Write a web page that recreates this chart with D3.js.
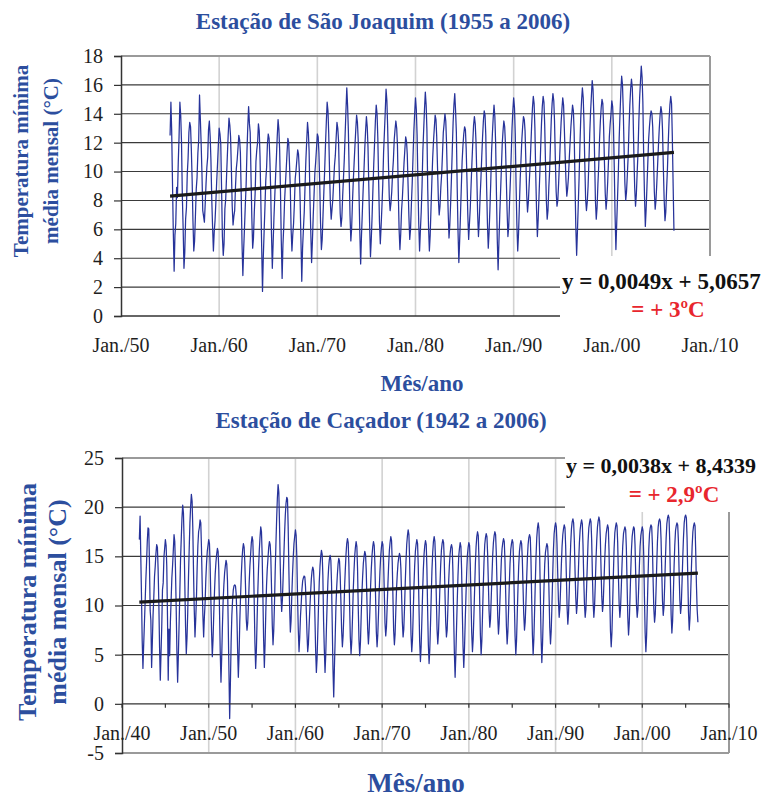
<!DOCTYPE html>
<html>
<head>
<meta charset="utf-8">
<script src="https://cdn.jsdelivr.net/npm/d3@7"></script>
<style>
  html, body { margin: 0; padding: 0; background: #fff; }
  svg { display: block; }
</style>
</head>
<body>
<svg id="chart" width="764" height="798"></svg>
<script>
// Monthly mean of daily minimum temperature (°C), São Joaquim, Jan 1955 – May 2006
const saoJoaquimStart = [1955, 1];
const saoJoaquimMin = [
  12.5,14.8,12.9,9.2,5.8,3.1,5.6,6.4,8.9,8.2,10.6,12.4,
  14.8,13.9,12.1,8.3,6.1,3.3,4.4,6.7,7.5,9.8,10.9,12.7,
  13.4,13.1,11.6,9.4,6.6,4.5,5.2,6.9,8.8,9.6,11.3,12.2,
  15.3,13.6,12.0,9.9,7.3,6.9,6.5,7.8,9.2,10.3,11.0,12.9,
  13.5,12.4,10.8,8.1,6.2,4.5,5.8,6.6,7.9,9.3,10.5,11.8,
  13.0,12.6,11.9,8.7,5.5,4.2,5.0,7.4,8.1,9.6,11.1,12.5,
  13.7,13.2,12.4,10.1,7.6,6.3,6.9,7.3,9.0,10.2,10.8,11.6,
  12.5,12.2,11.3,8.4,5.0,2.8,4.6,6.1,7.7,9.1,11.4,13.1,
  14.5,13.3,12.7,9.6,6.8,4.7,5.4,7.2,8.5,10.7,11.5,12.0,
  13.3,12.8,11.0,7.9,4.8,1.7,4.1,5.9,7.6,9.4,10.3,11.9,
  12.6,12.3,10.9,8.8,5.7,3.3,5.0,6.8,8.3,9.7,11.0,12.4,
  13.6,12.9,11.5,8.6,5.2,2.6,4.9,6.2,8.0,9.1,10.2,11.3,
  12.3,12.0,10.6,8.9,6.0,4.5,5.6,6.4,7.8,9.5,10.1,10.8,
  11.5,11.2,10.1,8.0,5.3,2.4,4.7,6.0,7.2,9.0,10.8,12.1,
  13.4,12.7,11.4,8.2,5.9,3.7,5.1,6.9,8.4,9.9,10.7,11.6,
  12.6,12.4,11.3,9.1,6.4,4.6,5.3,7.0,8.6,10.1,11.9,13.4,
  14.8,14.2,12.6,10.0,7.8,6.7,7.4,8.1,9.3,10.4,11.1,12.3,
  13.4,13.0,12.1,9.4,7.1,6.2,6.8,8.3,9.6,10.9,12.6,14.2,
  15.8,14.5,12.8,9.8,7.0,5.2,6.1,7.9,9.4,10.6,11.8,12.9,
  13.9,13.4,12.2,8.5,5.8,3.6,5.5,7.1,8.7,10.0,11.6,12.8,
  13.8,13.1,11.7,8.9,6.3,4.1,5.3,6.9,8.8,10.5,12.0,13.5,
  14.6,14.0,12.3,9.2,6.5,5.0,6.2,7.6,9.1,11.3,12.7,14.1,
  15.7,14.9,13.1,10.4,8.2,7.3,7.8,8.6,9.9,10.8,12.2,12.9,
  13.5,13.0,11.8,8.6,6.0,4.6,5.7,7.3,8.2,9.4,10.6,11.5,
  12.4,12.1,11.2,9.0,6.9,5.3,6.0,7.7,9.2,11.0,12.8,14.0,
  15.1,14.3,12.5,9.3,6.4,4.5,5.9,7.2,9.0,11.4,12.9,14.3,
  15.5,14.6,12.9,8.8,6.2,4.5,5.6,7.5,9.3,10.9,12.1,13.0,
  13.9,13.6,12.4,10.2,8.1,7.0,7.6,8.9,9.8,11.2,12.7,13.3,
  14.0,13.5,12.0,9.5,7.2,5.4,6.3,7.8,9.6,11.5,13.4,14.6,
  15.4,14.2,12.7,8.9,5.9,3.7,5.2,7.0,8.9,10.7,11.8,12.6,
  13.1,12.9,11.6,9.3,7.0,5.3,6.4,7.5,9.1,10.6,12.0,13.2,
  13.8,13.3,12.1,9.7,7.1,5.5,6.6,8.2,9.5,11.0,12.4,13.5,
  14.2,13.9,12.5,8.9,6.4,4.7,5.8,7.4,9.2,11.3,12.6,13.7,
  14.6,13.8,12.0,8.4,5.3,3.2,5.1,7.0,8.6,10.2,11.9,12.8,
  13.5,13.1,11.9,9.6,7.3,5.5,6.2,7.9,9.4,11.1,13.0,14.2,
  15.1,14.4,12.6,9.0,6.3,4.5,5.7,7.6,9.5,10.8,12.2,13.1,
  13.8,13.6,12.8,10.6,8.4,7.2,7.9,9.1,10.3,11.7,13.2,14.4,
  15.2,14.7,13.0,9.8,7.4,5.5,6.7,8.3,9.9,11.6,13.3,14.5,
  15.2,14.8,13.2,10.4,8.0,6.7,7.3,8.9,10.1,11.9,13.6,14.7,
  15.4,14.9,13.5,10.8,8.6,7.6,8.0,9.2,10.6,12.1,13.4,14.3,
  15.1,14.6,13.0,11.1,9.4,8.3,8.8,9.6,10.9,12.0,13.1,13.9,
  14.6,14.2,12.7,9.3,6.2,4.2,5.9,7.7,9.6,11.8,13.7,14.9,
  15.8,15.1,13.4,10.5,8.1,7.3,7.9,9.0,10.7,12.6,14.1,15.2,
  16.3,15.7,14.0,10.9,8.0,6.7,7.5,9.1,10.4,12.2,13.5,14.4,
  15.0,14.7,13.1,10.7,8.5,7.4,8.1,9.3,10.8,12.4,13.3,14.0,
  14.9,14.5,13.2,10.3,7.0,4.6,6.4,8.2,10.0,12.3,14.0,15.5,
  16.6,16.0,14.3,11.6,9.2,8.0,8.6,9.8,11.1,13.0,14.6,15.7,
  16.4,15.8,14.1,11.2,8.9,7.6,8.4,9.9,11.3,13.4,15.1,16.2,
  17.3,16.5,14.8,11.0,8.3,6.2,7.4,9.0,10.6,12.2,13.1,13.8,
  14.2,14.0,13.1,10.9,8.6,7.4,8.0,9.2,10.5,11.8,13.0,13.9,
  14.5,14.1,12.9,10.3,8.1,6.6,7.2,8.8,10.2,12.0,13.6,14.6,
  15.2,14.7,12.4,9.0,5.9
];

// Monthly mean of daily minimum temperature (°C), Caçador, Jan 1942 – Jun 2006
const cacadorStart = [1942, 1];
const cacadorMin = [
  16.7,19.1,15.2,11.0,6.4,3.6,5.9,8.1,10.3,12.6,14.4,16.5,
  17.9,17.8,14.6,9.5,8.5,3.7,6.2,9.0,10.8,12.9,14.0,15.3,
  16.2,15.9,13.7,10.2,5.8,2.4,5.1,7.8,11.6,12.3,14.9,15.8,
  16.7,16.1,14.0,8.7,2.4,7.6,4.9,8.4,10.6,12.8,14.1,15.6,
  17.2,16.5,13.9,9.8,5.4,2.2,4.8,8.0,11.2,14.6,16.8,18.9,
  20.2,19.4,16.6,12.0,7.9,5.1,6.7,9.3,12.8,15.7,18.4,20.1,
  21.3,20.6,17.9,13.4,9.6,6.8,8.5,10.7,13.9,16.1,17.5,17.9,
  18.7,18.4,15.9,12.1,8.9,6.8,8.8,10.2,12.7,14.3,15.5,16.1,
  16.7,16.3,14.2,10.6,7.3,4.8,6.5,9.1,11.4,13.2,14.4,15.2,
  15.8,15.5,13.6,9.4,5.3,2.2,4.7,7.9,10.5,12.1,13.3,14.0,
  14.6,14.2,12.5,8.1,3.4,-1.5,2.0,6.2,9.0,10.5,11.6,12.0,
  12.1,12.0,11.2,9.0,5.6,2.7,4.9,8.3,10.8,12.9,14.6,15.7,
  16.3,15.9,14.4,11.8,8.6,7.5,8.2,10.1,12.3,14.0,15.2,16.4,
  17.0,16.6,14.3,10.4,6.2,3.6,5.4,8.6,11.5,13.8,15.6,16.9,
  18.0,17.5,15.1,10.9,6.6,3.7,6.0,9.3,12.0,13.7,14.8,15.9,
  16.5,16.2,14.9,11.6,8.0,6.0,7.4,10.1,13.5,16.2,18.8,20.9,
  22.3,21.5,18.4,14.2,11.0,9.4,10.6,12.8,15.1,17.3,19.2,20.4,
  21.0,20.8,18.0,13.5,9.9,7.3,8.4,11.0,13.2,14.9,16.3,17.0,
  17.7,17.1,14.8,10.7,7.5,5.3,6.8,8.9,10.2,11.6,12.5,12.8,
  13.0,12.9,11.9,9.6,7.2,5.3,6.1,8.0,9.8,11.3,12.7,13.5,
  13.9,13.6,12.2,8.8,5.5,3.2,4.6,7.3,10.1,12.4,14.0,15.0,
  15.6,15.2,13.1,8.4,5.6,3.2,5.0,7.9,10.4,12.5,13.9,14.7,
  15.1,14.6,12.3,7.9,3.5,0.7,3.8,6.6,9.8,11.7,13.1,14.2,
  14.8,14.5,13.0,10.3,7.4,5.8,6.9,9.0,11.8,13.6,15.2,16.3,
  16.8,16.4,14.2,10.1,6.8,5.1,6.3,8.7,11.5,13.4,15.0,15.9,
  16.5,16.0,13.8,9.7,6.5,4.9,6.2,8.8,11.2,12.9,14.3,15.0,
  15.5,15.2,13.6,10.4,7.6,6.1,7.3,9.4,11.9,13.7,15.1,16.0,
  16.5,16.1,14.3,10.6,7.3,5.8,7.0,9.2,11.6,13.5,15.0,15.9,
  16.5,16.2,14.6,11.4,8.2,6.9,7.8,9.9,12.2,14.1,15.6,16.4,
  17.0,16.6,14.5,10.8,7.4,6.0,7.1,9.6,11.8,13.2,14.3,14.9,
  15.3,15.0,13.7,10.9,8.3,6.8,7.6,9.8,12.4,14.5,16.2,17.1,
  17.7,17.2,14.9,10.6,7.0,5.3,6.5,9.1,11.9,14.0,15.5,16.2,
  16.7,16.3,14.1,9.9,6.3,4.3,5.8,8.5,11.3,13.6,15.2,16.1,
  16.6,16.2,13.8,9.5,6.0,4.1,5.5,8.2,11.1,13.7,15.4,16.5,
  17.0,16.5,14.4,10.8,7.6,6.1,7.2,9.5,12.0,14.1,15.6,16.3,
  16.7,16.4,14.7,11.2,8.3,6.8,7.5,9.7,12.3,14.0,15.2,15.9,
  16.2,15.8,13.4,8.9,5.2,2.7,4.9,7.8,10.6,13.1,15.0,15.8,
  16.4,16.0,13.7,9.4,5.8,3.7,5.6,8.4,11.0,13.3,15.1,15.9,
  16.4,16.1,14.2,10.5,7.2,5.3,6.6,9.0,11.7,14.2,16.0,17.0,
  17.5,17.1,14.8,10.6,7.0,5.0,6.4,9.2,12.1,14.5,16.2,16.9,
  17.3,17.0,15.3,12.4,9.5,7.8,8.6,10.8,13.0,15.1,16.4,17.1,
  17.5,17.2,15.4,12.1,8.9,7.1,8.2,10.4,12.6,14.6,15.8,16.4,
  16.8,16.5,14.6,11.2,7.9,6.1,7.3,9.6,12.2,14.3,15.7,16.3,
  16.7,16.4,14.2,10.3,6.9,5.0,6.4,9.1,11.8,14.0,15.5,16.2,
  16.6,16.3,14.8,11.9,9.1,7.5,8.3,10.3,12.7,14.8,16.2,16.9,
  17.2,16.9,14.7,10.6,7.0,5.0,6.6,9.4,12.4,15.0,16.9,17.9,
  18.4,17.8,15.3,10.7,6.7,4.2,6.1,9.0,11.9,14.2,15.4,15.9,
  16.3,16.0,14.5,11.1,7.8,6.1,7.4,10.0,13.0,15.6,17.3,18.0,
  18.4,18.0,16.3,13.3,10.5,8.8,9.7,11.8,14.1,16.0,17.2,17.8,
  18.2,17.9,16.1,12.9,9.8,8.1,9.2,11.5,14.0,16.3,17.8,18.5,
  18.8,18.4,16.6,13.4,10.8,9.2,10.1,12.1,14.5,16.4,17.7,18.3,
  18.7,18.3,16.2,12.8,10.2,8.8,9.6,11.9,14.3,16.5,17.9,18.4,
  18.8,18.5,16.7,13.1,10.3,8.8,9.9,12.2,14.7,16.6,18.0,18.6,
  19.0,18.6,16.9,13.6,10.9,9.4,10.2,12.4,14.6,16.2,17.3,17.8,
  18.2,17.9,15.6,11.0,7.4,5.8,7.2,10.1,13.2,15.8,17.4,18.0,
  18.4,18.1,16.4,13.0,10.2,8.8,9.8,11.9,14.2,16.1,17.3,17.7,
  18.0,17.7,15.9,12.2,8.8,7.0,8.2,10.7,13.3,15.6,17.0,17.6,
  18.0,17.8,16.2,13.0,10.1,8.8,9.6,11.7,14.0,16.0,17.1,17.6,
  18.0,17.6,15.2,10.9,7.2,5.3,6.9,9.9,13.0,15.7,17.3,17.9,
  18.2,18.0,16.3,12.6,9.7,8.3,9.1,11.4,14.1,16.5,18.0,18.6,
  18.8,18.5,16.8,13.5,10.5,9.0,9.8,12.0,14.6,16.8,18.3,18.9,
  19.2,18.9,16.7,12.5,9.0,7.2,8.4,11.1,13.9,16.1,17.6,18.1,
  18.4,18.2,16.6,13.3,10.6,9.2,10.0,12.3,14.8,16.9,18.4,19.0,
  19.2,18.9,16.9,12.9,9.3,7.5,8.7,11.2,13.8,16.0,17.5,18.1,
  18.4,18.1,15.5,12.0,9.6,8.3
];

// Linear trends, x = months counted from Dec 1899 (Jan 1900 = 1)
const saoJoaquimTrend = [0.0049, 5.0657];
const cacadorTrend = [0.0038, 8.4339];
const saoJoaquimTrendText = ["y = 0,0049x + 5,0657", "= + 3ºC"];
const cacadorTrendText = ["y = 0,0038x + 8,4339", "= + 2,9ºC"];

// Axis ticks
const saoJoaquimYTicks = [0, 2, 4, 6, 8, 10, 12, 14, 16, 18];
const cacadorYTicks = [-5, 0, 5, 10, 15, 20, 25];
const saoJoaquimYears = [1950, 1960, 1970, 1980, 1990, 2000, 2010];
const cacadorYears = [1940, 1950, 1960, 1970, 1980, 1990, 2000, 2010];
const cacadorMinorYears = [1945, 1955, 1965, 1975, 1985, 1995, 2005];
const yearLabel = y => "Jan./" + String(y % 100).padStart(2, "0");

const titles = ["Estação de São Joaquim (1955 a 2006)", "Estação de Caçador (1942 a 2006)"];
const yTitle = ["Temperatura mínima", "média mensal (°C)"];
const xTitle = "Mês/ano";

const SERIF = "'Liberation Serif', 'Times New Roman', serif";
const BLUE_TXT = "#2c4e9e";
const LINE_BLUE = "#27339a";
const RED = "#e8262d";

const svg = d3.select("#chart");
svg.append("rect").attr("width", 764).attr("height", 798).attr("fill", "#fff");

function toSeries(start, values) {
  return values.map((v, i) => {
    const m = start[1] - 1 + i;
    const year = start[0] + Math.floor(m / 12);
    const month = m % 12;
    return { date: new Date(year, month, 1), idx: (year - 1900) * 12 + month + 1, v };
  });
}

function drawPanel(cfg) {
  const g = svg.append("g");
  const x = d3.scaleTime()
    .domain([new Date(cfg.xYears[0], 0, 1), new Date(cfg.xYears[cfg.xYears.length - 1], 0, 1)])
    .range([cfg.left, cfg.right]);
  const y = d3.scaleLinear().domain(cfg.yDomain).range([cfg.bottom, cfg.top]);
  const yTop = cfg.yDomain[1], yBot = cfg.yDomain[0];

  // vertical gridlines
  g.append("g").selectAll("line")
    .data(cfg.xYears.slice(1, -1))
    .join("line")
    .attr("x1", d => x(new Date(d, 0, 1))).attr("x2", d => x(new Date(d, 0, 1)))
    .attr("y1", cfg.top).attr("y2", cfg.bottom)
    .attr("stroke", "#d2d2d2").attr("stroke-width", 1.6);

  // horizontal gridlines
  g.append("g").selectAll("line")
    .data(cfg.yTicks.filter(t => t !== yTop && t !== yBot && t !== 0))
    .join("line")
    .attr("x1", cfg.left).attr("x2", cfg.right)
    .attr("y1", d => y(d)).attr("y2", d => y(d))
    .attr("stroke", "#3a3a3a").attr("stroke-width", 1.1);

  // plot frame (top, right, bottom)
  const frame = g.append("g").attr("stroke", "#9a9a9a").attr("stroke-width", 2).attr("fill", "none");
  frame.append("line").attr("x1", cfg.left).attr("x2", cfg.right).attr("y1", y(yTop)).attr("y2", y(yTop));
  frame.append("line").attr("x1", x(new Date(cfg.xYears[cfg.xYears.length - 1], 0, 1)))
    .attr("x2", x(new Date(cfg.xYears[cfg.xYears.length - 1], 0, 1)))
    .attr("y1", cfg.top).attr("y2", cfg.bottom);
  if (yBot !== 0) {
    frame.append("line").attr("x1", cfg.left).attr("x2", cfg.right).attr("y1", y(yBot)).attr("y2", y(yBot));
  }

  // data series
  const series = toSeries(cfg.start, cfg.values);
  g.append("path")
    .datum(series)
    .attr("fill", "none")
    .attr("stroke", LINE_BLUE)
    .attr("stroke-width", 1.25)
    .attr("stroke-linejoin", "round")
    .attr("d", d3.line().x(d => x(d.date)).y(d => y(d.v)));

  // trend line from the fitted equation
  const ends = [series[0], series[series.length - 1]];
  g.append("path")
    .datum(ends)
    .attr("fill", "none")
    .attr("stroke", "#1a1a1a")
    .attr("stroke-width", 3.2)
    .attr("d", d3.line().x(d => x(d.date)).y(d => y(cfg.trend[0] * d.idx + cfg.trend[1])));

  // x axis line at zero
  g.append("line").attr("x1", cfg.left).attr("x2", cfg.right)
    .attr("y1", y(0)).attr("y2", y(0)).attr("stroke", "#333").attr("stroke-width", 1.4);
  if (cfg.minorYears) {
    g.append("g").selectAll("line")
      .data(cfg.xYears.concat(cfg.minorYears))
      .join("line")
      .attr("x1", d => x(new Date(d, 0, 1))).attr("x2", d => x(new Date(d, 0, 1)))
      .attr("y1", y(0)).attr("y2", y(0) + 4)
      .attr("stroke", "#333").attr("stroke-width", 1.2);
  }

  // y axis
  const yAxis = d3.axisLeft(y).tickValues(cfg.yTicks).tickSize(7).tickPadding(11).tickFormat(d3.format("d"));
  const ya = g.append("g").attr("transform", `translate(${cfg.left},0)`).call(yAxis);
  ya.select(".domain").attr("stroke", "#333").attr("stroke-width", 1.5);
  ya.selectAll(".tick line").attr("stroke", "#333").attr("stroke-width", 1.2);
  ya.selectAll(".tick text")
    .attr("font-family", SERIF).attr("font-size", 20).attr("fill", "#1e1e1e")
    .text(d => d < 0 ? "-" + Math.abs(d) : d);

  // x tick labels
  g.append("g").selectAll("text")
    .data(cfg.xYears)
    .join("text")
    .attr("x", d => x(new Date(d, 0, 1)))
    .attr("y", cfg.xLabelY)
    .attr("text-anchor", "middle")
    .attr("font-family", SERIF).attr("font-size", 20).attr("fill", "#1e1e1e")
    .text(yearLabel);

  // box behind the trend equation
  g.append("rect")
    .attr("x", cfg.eqBox[0]).attr("y", cfg.eqBox[1])
    .attr("width", cfg.eqBox[2]).attr("height", cfg.eqBox[3])
    .attr("fill", "#fff");
  g.append("text")
    .attr("x", cfg.eqPos[0]).attr("y", cfg.eqPos[1])
    .attr("font-family", SERIF).attr("font-weight", "bold").attr("font-size", cfg.eqSize)
    .attr("fill", "#111")
    .text(cfg.eqText[0]);
  g.append("text")
    .attr("x", cfg.deltaPos[0]).attr("y", cfg.deltaPos[1])
    .attr("text-anchor", "middle")
    .attr("font-family", SERIF).attr("font-weight", "bold").attr("font-size", 23)
    .attr("fill", RED)
    .text(cfg.eqText[1]);

  // titles
  g.append("text")
    .attr("x", cfg.titlePos[0]).attr("y", cfg.titlePos[1])
    .attr("text-anchor", "middle")
    .attr("font-family", SERIF).attr("font-weight", "bold").attr("font-size", 23)
    .attr("fill", BLUE_TXT)
    .text(cfg.title);
  g.append("text")
    .attr("x", cfg.xTitlePos[0]).attr("y", cfg.xTitlePos[1])
    .attr("text-anchor", "middle")
    .attr("font-family", SERIF).attr("font-weight", "bold").attr("font-size", cfg.xTitleSize)
    .attr("fill", BLUE_TXT)
    .text(xTitle);
  const yt = g.append("text")
    .attr("transform", `translate(${cfg.yTitlePos[0]},${cfg.yTitlePos[1]}) rotate(-90)`)
    .attr("text-anchor", "middle")
    .attr("font-family", SERIF).attr("font-weight", "bold").attr("font-size", cfg.yTitleSize)
    .attr("fill", BLUE_TXT);
  yt.selectAll("tspan").data(yTitle).join("tspan")
    .attr("x", 0).attr("dy", (d, i) => i === 0 ? 0 : cfg.yTitleGap)
    .text(d => d);
}

drawPanel({
  start: saoJoaquimStart, values: saoJoaquimMin, trend: saoJoaquimTrend, eqText: saoJoaquimTrendText,
  xYears: saoJoaquimYears, yTicks: saoJoaquimYTicks, yDomain: [0, 18],
  left: 121, right: 710, top: 56, bottom: 316, xLabelY: 352,
  eqBox: [560, 256, 204, 72], eqPos: [562, 289], eqSize: 23, deltaPos: [668, 317],
  title: titles[0], titlePos: [383, 29], xTitlePos: [422, 391], xTitleSize: 23,
  yTitlePos: [28, 161], yTitleSize: 21, yTitleGap: 30
});

drawPanel({
  start: cacadorStart, values: cacadorMin, trend: cacadorTrend, eqText: cacadorTrendText,
  xYears: cacadorYears, minorYears: cacadorMinorYears, yTicks: cacadorYTicks, yDomain: [-5, 25],
  left: 122, right: 729, top: 458, bottom: 753, xLabelY: 740,
  eqBox: [565, 448, 199, 64], eqPos: [566, 473], eqSize: 22, deltaPos: [674, 502],
  title: titles[1], titlePos: [381, 428], xTitlePos: [416, 792], xTitleSize: 27,
  yTitlePos: [36, 602], yTitleSize: 26, yTitleGap: 30
});
</script>
</body>
</html>
